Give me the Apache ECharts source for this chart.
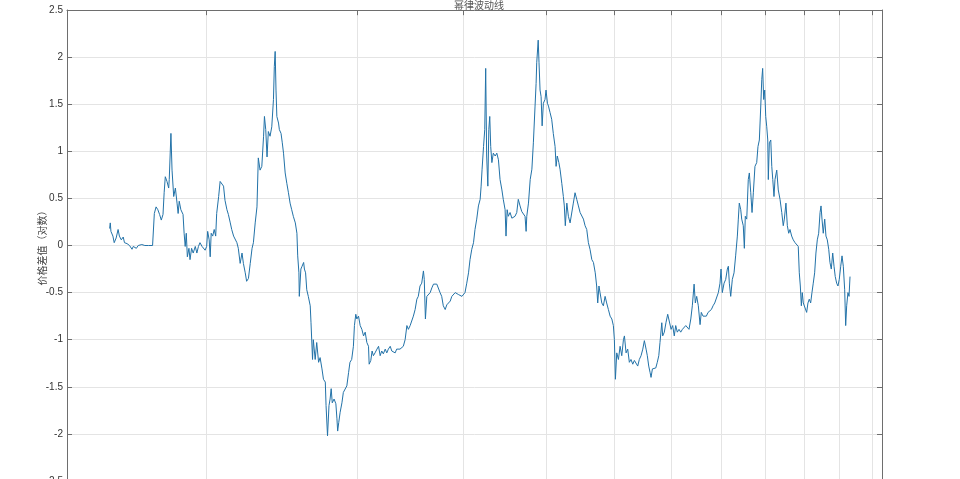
<!DOCTYPE html>
<html>
<head>
<meta charset="utf-8">
<script src="https://cdn.jsdelivr.net/npm/echarts@6/dist/echarts.min.js"></script>
<style>html,body{margin:0;padding:0;background:#fff}#c{width:960px;height:479px}</style>
</head>
<body>
<div id="c"></div>
<script>
const titleText = '幂律波动线';
const yAxisName = '价格差值（对数）';
const gridDays = [730, 1095, 1460, 1825, 2190, 2555, 2920, 3285, 3650, 4015, 4380];
const xMin = 502, xMax = 4500;
const yMin = -2.5, yMax = 2.5, yStep = 0.5;

const days = [
563,564,565,568,570,573,576,578,581,584,586,590,594,598,600,605,608,611,614,617,619,625,632,635,638,641,644,647,650,652,654,657,660,661,664,666,669,672,675,677,679,682,686,688,690,692,694,697,699,702,705,709,712,715,718,722,725,728,731,733,736,738,740,743,746,749,751,755,758,762,765,768,772,775,779,782,786,789,793,796,800,804,807,811,814,818,822,826,829,833,837,
840,844,848,852,854,857,860,863,867,871,875,877,879,
881,883,887,889,893,896,899,903,907,911,915,919,923,928,932,934,937,938,942,945,949,951,954,957,961,966,968,972,974,979,983,988,992,997,1001,1006,1008,1012,1016,1019,1022,1025,1030,1035,1038,1040,1043,1047,1052,1056,1061,1066,1071,1075,1080,1085,1088,1092,1095,1100,1105,1110,1115,1120,1125,1130,1132,1137,1141,1145,1150,1156,1161,1166,1171,1176,1182,1187,1192,1198,1203,1208,1214,1219,1230,1241,1247,1253,1258,1264,1270,1275,1281,1287,1292,1298,1304,1310,1313,1317,1322,1328,
1334,1340,1346,1352,1358,1364,1370,1376,1382,1389,1395,1401,1408,1414,1420,1427,1433,1439,1446,1453,1459,1465,1472,1479,1485,1492,1499,1505,1512,1519,1526,1530,1534,1540,1545,1549,1553,1558,1562,1566,1570,1575,1581,1589,1596,1603,1610,1618,1624,1632,1636,1641,1646,1654,1662,1669,1676,1684,1691,1699,1707,1714,1722,1727,1730,1738,1746,1754,1761,1769,1774,1777,1784,1788,1793,1798,1803,1809,1817,1822,1829,1834,1842,1850,1858,1867,1872,1878,1886,1892,1901,1909,1914,1919,1927,1935,1944,1953,1961,1970,1979,1988,1997,2006,2015,2024,2033,2042,2051,2061,2070,2080,2088,2094,2101,2107,2117,
2126,2136,2145,2155,2165,2175,2184,2190,2196,2204,2214,2224,2234,2244,2250,2260,2270,2280,2290,2301,2311,2321,2332,2342,2353,2364,2374,2385,2393,2402,2411,2417,2426,2437,2448,2458,2468,2476,2488,2494,2505,2516,2528,2539,2551,2562,2573,2583,2594,2606,2618,2630,2642,2654,2665,2677,2690,2701,2714,2723,2733,2745,2758,2767,2780,2793,2805,2818,2831,2843,2856,2869,2881,2897,2910,2918,2928,2942,2955,2968,2976,2984,2995,3008,3022,3035,3049,3057,3065,3077,
3085,3098,3107,3115,3127,3140,3149,3161,3172,3183,3197,3212,3223,3235,3247,3256,3264,3273,3282,3291,3300,3309,3314,3323,3336,3345,3354,3365,3374,3390,3404,3420,3436,3450,3460,3475,3488,3501,3513,3529,3544,3561,3577,3592,3602,3612,3622,3631,3641,3658,3674,3687,3700,3714,3727,3740,3754,3767,3781,3795,3809,3819,3829,3842,3857,3870,3884,3899,3912,3926,3941,3955,3968,3983,3997,4011,4027,4041,4055,4070,4081,4092,4106,4118,4129
];

const values = [
0.18,0.24,0.15,0.10,0.03,0.08,0.17,0.10,0.06,0.09,0.03,0.02,0.00,-0.04,-0.01,-0.03,0.00,-0.02,0.01,-0.01,0.00,0.00,0.00,0.34,0.41,0.38,0.33,0.27,0.33,0.56,0.73,0.68,0.61,0.70,1.19,0.80,0.52,0.61,0.45,0.34,0.47,0.38,0.33,0.13,-0.01,0.13,-0.12,-0.03,-0.15,-0.03,-0.08,-0.01,-0.08,-0.01,0.03,-0.01,0.01,-0.05,-0.01,0.15,0.06,-0.12,0.13,0.10,0.17,0.10,0.34,0.52,0.68,0.70,0.63,0.48,0.38,0.33,0.24,0.17,0.10,0.08,0.03,-0.03,-0.19,-0.08,-0.19,-0.29,-0.38,-0.35,-0.19,-0.03,0.03,0.24,0.41,
0.93,0.80,0.84,1.16,1.37,1.23,0.94,1.21,1.16,1.26,1.55,1.90,2.06,
1.65,1.37,1.30,1.23,1.19,1.09,0.98,0.77,0.66,0.56,0.45,0.38,0.31,0.24,0.13,-0.11,-0.29,-0.54,-0.25,-0.22,-0.18,-0.25,-0.29,-0.47,-0.54,-0.64,-0.82,-1.21,-1.00,-1.21,-1.03,-1.24,-1.19,-1.31,-1.42,-1.45,-1.70,-2.02,-1.70,-1.63,-1.52,-1.67,-1.63,-1.68,-1.84,-1.97,-1.88,-1.77,-1.67,-1.56,-1.54,-1.49,-1.35,-1.24,-1.21,-1.07,-0.85,-0.73,-0.78,-0.75,-0.85,-0.89,-0.96,-0.92,-1.03,-1.07,-1.26,-1.22,-1.12,-1.17,-1.14,-1.10,-1.07,-1.17,-1.12,-1.15,-1.10,-1.14,-1.10,-1.07,-1.12,-1.12,-1.14,-1.10,-1.10,-1.07,-1.00,-0.85,-0.89,-0.85,-0.84,-0.75,-0.68,-0.57,-0.54,-0.43,-0.40,-0.27,-0.36,-0.78,-0.54,-0.54,
-0.50,-0.45,-0.41,-0.43,-0.41,-0.43,-0.50,-0.54,-0.64,-0.68,-0.63,-0.64,-0.59,-0.54,-0.52,-0.50,-0.50,-0.52,-0.52,-0.54,-0.52,-0.50,-0.40,-0.29,-0.15,-0.04,0.03,0.17,0.28,0.42,0.49,0.63,0.81,1.05,1.23,1.88,0.95,0.63,1.23,1.37,1.05,0.88,0.98,0.95,0.98,0.91,0.70,0.59,0.49,0.38,0.10,0.38,0.31,0.35,0.29,0.28,0.31,0.35,0.49,0.42,0.36,0.38,0.31,0.15,0.31,0.45,0.70,0.81,1.09,1.48,1.72,1.94,2.18,1.94,1.65,1.58,1.27,1.51,1.55,1.65,1.51,1.48,1.41,1.34,1.19,1.05,0.84,0.95,0.88,0.81,0.66,0.52,0.42,0.21,0.45,0.31,0.24,0.24,0.45,0.56,0.49,0.42,0.35,0.36,0.28,0.21,0.17,0.03,-0.04,-0.15,-0.18,-0.29,-0.43,-0.61,-0.43,-0.50,-0.61,
-0.64,-0.54,-0.61,-0.68,-0.75,-0.78,-0.85,-1.00,-1.42,-1.14,-1.21,-1.07,-1.17,-1.00,-0.96,-1.14,-1.10,-1.24,-1.21,-1.26,-1.22,-1.24,-1.28,-1.21,-1.17,-1.10,-1.01,-1.10,-1.17,-1.28,-1.35,-1.40,-1.31,-1.33,-1.30,-1.24,-1.17,-1.03,-0.82,-0.96,-0.92,-0.82,-0.73,-0.75,-0.89,-0.85,-0.96,-0.85,-0.92,-0.89,-0.92,-0.89,-0.89,-0.85,-0.87,-0.89,-0.78,-0.64,-0.41,-0.61,-0.54,-0.64,-0.84,-0.71,-0.75,-0.75,-0.75,-0.71,-0.70,-0.68,-0.64,-0.61,-0.61,-0.50,-0.40,-0.25,-0.50,-0.40,-0.36,-0.25,-0.22,-0.40,-0.54,-0.36,-0.29,-0.11,0.10,0.28,0.45,0.38,
0.28,0.21,-0.03,0.31,0.28,0.70,0.77,0.56,0.35,0.56,0.84,0.88,1.05,1.12,1.47,1.76,1.88,1.55,1.65,1.37,1.26,1.12,0.70,1.09,1.12,0.84,0.70,0.52,0.70,0.80,0.59,0.49,0.35,0.21,0.28,0.45,0.21,0.13,0.17,0.10,0.06,0.03,0.03,-0.01,-0.29,-0.43,-0.64,-0.50,-0.61,-0.61,-0.71,-0.61,-0.57,-0.61,-0.50,-0.40,-0.29,-0.08,0.06,0.13,0.35,0.42,0.28,0.13,0.28,0.10,0.06,-0.04,-0.18,-0.25,-0.08,-0.22,-0.33,-0.40,-0.43,-0.36,-0.22,-0.11,-0.22,-0.47,-0.85,-0.64,-0.50,-0.54,-0.33
];

const axisColor = '#6e6e6e';
const gridColor = '#e4e4e4';
const textColor = '#333333';
const fontFamily = '"Liberation Sans", Arial, sans-serif';

const chart = echarts.init(document.getElementById('c'), null, {renderer: 'canvas'});
const yAxisBase = {
  type: 'value', min: yMin, max: yMax, interval: yStep,
  axisLine: {show: true, onZero: false, lineStyle: {color: axisColor, width: 1}},
  axisTick: {show: true, inside: true, length: 5, lineStyle: {color: axisColor}},
};
chart.setOption({
  animation: false,
  backgroundColor: '#ffffff',
  title: {
    text: titleText, left: 474, textAlign: 'center', top: -5,
    textStyle: {fontSize: 10, fontWeight: 'normal', color: '#555555', fontFamily: '"Noto Sans CJK SC", sans-serif'}
  },
  grid: {left: 67, top: 10, width: 815, height: 471, containLabel: false, outerBoundsMode: 'none'},
  xAxis: [
    {type: 'log', min: xMin, max: xMax, position: 'bottom',
     axisLine: {show: true, onZero: false, lineStyle: {color: axisColor}}, axisTick: {show: false},
     axisLabel: {show: false}, splitLine: {show: false}, minorSplitLine: {show: false}},
    {type: 'log', min: xMin, max: xMax, position: 'top',
     axisLine: {show: true, onZero: false, lineStyle: {color: axisColor}}, axisTick: {show: false},
     axisLabel: {show: false}, splitLine: {show: false}}
  ],
  yAxis: [
    Object.assign({}, yAxisBase, {
      position: 'left',
      name: yAxisName, nameLocation: 'middle', nameGap: 20, nameRotate: 90, nameMoveOverlap: false,
      nameTextStyle: {fontSize: 10, color: '#444444', fontFamily: '"Noto Sans CJK SC", sans-serif'},
      axisLabel: {show: true, fontSize: 10, color: textColor, margin: 4, fontFamily: fontFamily},
      splitLine: {show: true, lineStyle: {color: gridColor, width: 1}}
    }),
    Object.assign({}, yAxisBase, {
      position: 'right', axisLabel: {show: false}, splitLine: {show: false}
    })
  ],
  series: [
    {
      type: 'line', data: [], xAxisIndex: 0, yAxisIndex: 0, z: 1, silent: true,
      markLine: {
        z: 1, silent: true, symbol: 'none', animation: false,
        label: {show: false},
        lineStyle: {color: gridColor, type: 'solid', width: 1},
        emphasis: {disabled: true},
        data: gridDays.map(d => ({xAxis: d}))
      }
    },
    {
      type: 'line', data: [], xAxisIndex: 0, yAxisIndex: 0, z: 6, silent: true,
      markLine: {
        z: 6, silent: true, symbol: 'none', animation: false,
        label: {show: false},
        lineStyle: {color: axisColor, type: 'solid', width: 1},
        emphasis: {disabled: true},
        data: gridDays.map(d => [{coord: [d, yMax]}, {coord: [d, yMax - 0.055]}])
      }
    },
    {
      type: 'line', xAxisIndex: 0, yAxisIndex: 0, z: 3,
      data: days.map((d, i) => [d, values[i]]),
      showSymbol: false, symbol: 'none',
      lineStyle: {color: '#2272a8', width: 1},
      emphasis: {disabled: true}
    }
  ]
});
</script>
</body>
</html>
